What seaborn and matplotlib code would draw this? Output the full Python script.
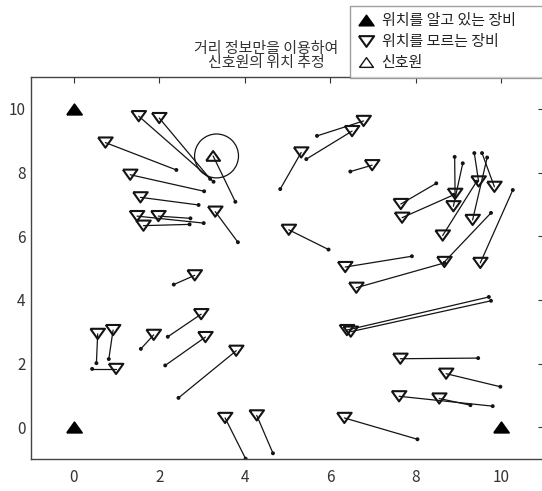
import matplotlib
matplotlib.use("Agg")
import matplotlib.pyplot as plt
from matplotlib.lines import Line2D
import pandas as pd
import seaborn as sns

# Anchor nodes with known positions
known_x = [0, 0, 10]
known_y = [10, 0, 0]

# Signal source: true position and its estimate
source_x, source_y = 3.26, 8.52
source_est_x, source_est_y = 3.78, 7.08

# Nodes with unknown positions: true position and estimated position
true_x = [1.52, 2.00, 0.74, 1.32, 1.56, 1.48, 1.98, 1.63, 3.31,
          6.78, 6.51, 5.32, 6.98, 5.03,
          7.65, 7.68, 8.92, 8.88, 9.47, 9.84, 9.33, 8.63, 8.67, 9.51,
          2.83, 2.98, 3.08, 3.80, 1.87, 0.56, 0.92, 0.99,
          3.54, 4.28, 6.33, 7.61, 8.55, 8.71, 7.64, 6.39, 6.48, 6.35, 6.61]
true_y = [9.77, 9.71, 8.94, 7.93, 7.22, 6.63, 6.63, 6.33, 6.77,
          9.62, 9.30, 8.63, 8.23, 6.20,
          7.01, 6.58, 7.33, 6.94, 7.72, 7.55, 6.51, 6.02, 5.19, 5.16,
          4.77, 3.55, 2.83, 2.40, 2.90, 2.93, 3.05, 1.83,
          0.29, 0.37, 0.29, 0.97, 0.90, 1.68, 2.15, 3.05, 3.00, 5.03, 4.38]
est_x = [3.27, 3.19, 2.40, 3.05, 2.92, 3.04, 2.73, 2.71, 3.84,
         5.69, 5.44, 4.83, 6.47, 5.96,
         8.48, 8.89, 8.91, 9.10, 9.37, 9.55, 9.67, 9.42, 9.76, 10.27,
         2.34, 2.20, 2.14, 2.45, 1.57, 0.53, 0.82, 0.43,
         4.02, 4.66, 8.04, 9.80, 9.28, 9.98, 9.46, 9.71, 9.76, 7.91, 8.67]
est_y = [7.71, 7.80, 8.08, 7.41, 6.98, 6.41, 6.56, 6.37, 5.81,
         9.15, 8.42, 7.48, 8.03, 5.58,
         7.66, 7.30, 8.49, 8.29, 8.61, 8.61, 8.47, 7.71, 6.73, 7.45,
         4.48, 2.84, 1.94, 0.92, 2.46, 2.01, 2.14, 1.83,
         -0.99, -0.82, -0.38, 0.66, 0.69, 1.27, 2.17, 4.09, 3.97, 5.37, 5.16]

ticks = [0, 2, 4, 6, 8, 10]
title_text = "거리 정보만을 이용하여\n신호원의 위치 추정"
legend_labels = ["위치를 알고 있는 장비", "위치를 모르는 장비", "신호원"]

sns.set_theme(style="white")
plt.rcParams["font.family"] = ["Noto Sans CJK KR", "DejaVu Sans"]

fig = plt.figure(figsize=(5.42, 4.91), dpi=100)
ax = fig.add_axes([31 / 542, 32 / 491, 513 / 542, 382 / 491])

# Wide, flat triangle glyphs
tri_down = [(-1, 0.7), (1, 0.7), (0, -0.7), (-1, 0.7)]
tri_up = [(-1, -0.7), (1, -0.7), (0, 0.7), (-1, -0.7)]

ink = "#141414"

# Error segments: true position -> estimate (unknown nodes and source)
seg_rows = []
for i, (tx, ty, ex, ey) in enumerate(zip(true_x, true_y, est_x, est_y)):
    seg_rows.append({"id": i, "x": tx, "y": ty})
    seg_rows.append({"id": i, "x": ex, "y": ey})
seg_rows.append({"id": len(true_x), "x": source_x, "y": source_y})
seg_rows.append({"id": len(true_x), "x": source_est_x, "y": source_est_y})
segments = pd.DataFrame(seg_rows)
sns.lineplot(data=segments, x="x", y="y", units="id", estimator=None,
             sort=False, color=ink, linewidth=0.9, legend=False, ax=ax)

# Estimated positions
sns.scatterplot(x=est_x + [source_est_x], y=est_y + [source_est_y],
                s=8, color=ink, edgecolor="none", legend=False, ax=ax)

# Unknown nodes
sns.scatterplot(x=true_x, y=true_y, marker=tri_down, s=110,
                color=ink, facecolor="none", edgecolor=ink,
                linewidth=1.5, legend=False, ax=ax)
ax.collections[-1].set_facecolor("none")

# Signal source and highlight ring
sns.scatterplot(x=[source_x], y=[source_y], marker=tri_up, s=100,
                color=ink, facecolor="none", edgecolor=ink,
                linewidth=1.5, legend=False, ax=ax)
ax.collections[-1].set_facecolor("none")
sns.scatterplot(x=[source_x + 0.08], y=[source_y], marker="o", s=1000,
                color=ink, facecolor="none", edgecolor=ink,
                linewidth=0.9, legend=False, ax=ax)
ax.collections[-1].set_facecolor("none")

# Anchor nodes
sns.scatterplot(x=known_x, y=known_y, marker=tri_up, s=120,
                color="black", edgecolor="black", linewidth=1.2,
                legend=False, ax=ax)

ax.set_xlim(-1, 11)
ax.set_ylim(-1, 11)
ax.set_xticks(ticks)
ax.set_yticks(ticks)
ax.set_xlabel("")
ax.set_ylabel("")
ax.tick_params(direction="in", length=4, width=0.8, color="#333",
               top=True, right=True, labelsize=11, labelcolor="#333")
ax.tick_params(axis="x", pad=7)
ax.tick_params(axis="y", pad=4)
for sp in ax.spines.values():
    sp.set_color("#444")
    sp.set_linewidth(1.0)

fig.text(266 / 542, 1 - 56 / 491, title_text, ha="center", va="center",
         fontsize=10.8, linespacing=0.95, color="#333")

handles = [
    Line2D([], [], linestyle="none", marker=tri_up, markersize=11,
           markerfacecolor="black", markeredgecolor="black"),
    Line2D([], [], linestyle="none", marker=tri_down, markersize=11,
           markerfacecolor="none", markeredgecolor=ink, markeredgewidth=1.5),
    Line2D([], [], linestyle="none", marker=tri_up, markersize=10,
           markerfacecolor="none", markeredgecolor=ink, markeredgewidth=1.0),
]
leg = fig.legend(handles, legend_labels, loc="lower left",
                 bbox_to_anchor=(350 / 542, 1 - 78 / 491, 200 / 542, 0.05),
                 mode="expand", borderaxespad=0, frameon=True,
                 fancybox=False, edgecolor="#888", fontsize=10.8,
                 handlelength=1.0, handletextpad=0.55, labelspacing=0.45,
                 borderpad=0.55)
leg.get_frame().set_linewidth(1.0)
for t in leg.get_texts():
    t.set_color("#222")

fig.savefig("out.png", dpi=100)
